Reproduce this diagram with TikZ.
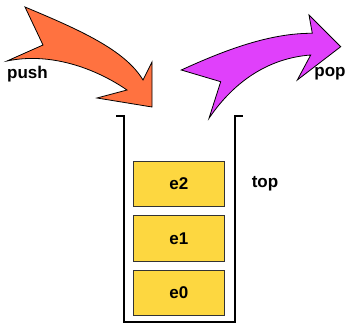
\documentclass[tikz,border=0pt]{standalone}
\usepackage{fontspec}
\setmainfont{Liberation Sans}
\definecolor{boxyellow}{RGB}{253,215,64}
\definecolor{pushorange}{RGB}{255,114,64}
\definecolor{popmagenta}{RGB}{224,64,251}
\tikzset{%
    elem/.style={draw=black!80,line width=0.8pt,fill=boxyellow,minimum width=91pt,minimum height=45.5pt,inner sep=0pt,font=\fontsize{17}{20}\selectfont\bfseries},
    lbl/.style={inner sep=0pt,font=\fontsize{17}{20}\selectfont\bfseries},
    flow/.style={draw=black,line width=0.8pt,line join=miter}
}

\begin{document}
\begin{tikzpicture}[x=1pt,y=-1pt]
        \useasboundingbox (0,0) rectangle (348,324);

        % stack container
        \draw[line width=2.2pt] (116,116) -- (124,116) -- (124,322) -- (235,322) -- (235,116) -- (243,116);

        \node[elem] (e2) at (178.8,184){e2};
        \node[elem] (e1) at (178.8,238.5){e1};
        \node[elem] (e0) at (178.8,292.7){e0};
        \node[lbl] (top) at (265,184){top};

        % push arrow
        \draw[flow,fill=pushorange] (25,7) .. controls (80,30) and (125,50) .. (143,80)
            -- (152,62) -- (152,107) -- (97,98) -- (127,90)
            .. controls (95,68) and (50,52) .. (7,61) -- (43,45) -- cycle;
        \node[lbl] (push) at (27.5,74){push};

        % pop arrow
        \draw[flow,fill=popmagenta] (181.3,70) -- (220.7,81.7) -- (209,118.3)
            .. controls (235,80) and (270,58) .. (310.7,55)
            -- (297.3,80) -- (340.7,46.7) -- (309,15) -- (312.3,33.3)
            .. controls (270,33) and (225,50) .. cycle;
        \node[lbl] (pop) at (330,74){pop};
    \end{tikzpicture}
\end{document}
